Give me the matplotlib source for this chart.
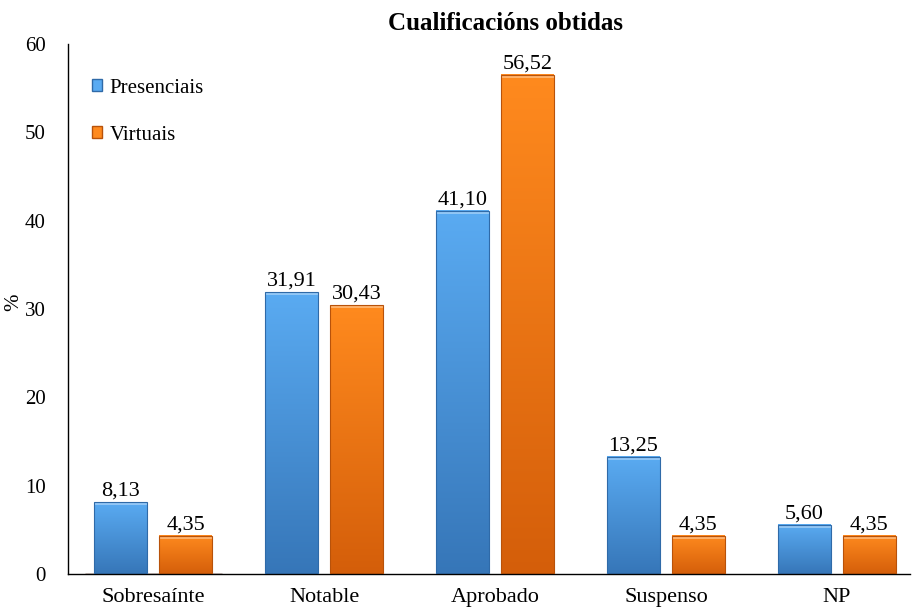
import numpy as np
import matplotlib
matplotlib.use('Agg')
import matplotlib.pyplot as plt
from matplotlib.colors import LinearSegmentedColormap

plt.rcParams['font.family'] = ['Liberation Serif', 'DejaVu Serif']

categorias = ['Sobresaínte', 'Notable', 'Aprobado', 'Suspenso', 'NP']
presenciais = [8.13, 31.91, 41.10, 13.25, 5.60]
virtuais = [4.35, 30.43, 56.52, 4.35, 4.35]
series = ['Presenciais', 'Virtuais']

# gradient colours: (top, bottom)
cores = {'Presenciais': ('#5aabf2', '#3676b8'),
         'Virtuais': ('#ff8a1e', '#d45e0a')}
bordes = {'Presenciais': '#2f6aa8', 'Virtuais': '#b8520a'}

fs = 15

fig = plt.figure(figsize=(9.13, 6.11), dpi=100)
ax = fig.add_axes([0.0745, 0.0606, 0.9225, 0.8675])

x = np.arange(len(categorias))
w = 0.31
offs = [-0.19, 0.19]
grad = np.linspace(1, 0, 256).reshape(-1, 1)

for vals, name, off in zip([presenciais, virtuais], series, offs):
    cmap = LinearSegmentedColormap.from_list(name, [cores[name][1], cores[name][0]])
    bars = ax.bar(x + off, vals, w, color='none', edgecolor=bordes[name],
                  linewidth=0.8, zorder=3)
    for b, v in zip(bars, vals):
        x0 = b.get_x()
        ax.imshow(grad, extent=[x0, x0 + w, 0, v], aspect='auto', cmap=cmap,
                  vmin=0, vmax=1, zorder=2)
        # light top bevel
        ax.fill_between([x0, x0 + w], v - 0.35, v, color='white', alpha=0.35,
                        linewidth=0, zorder=2.5)
        ax.text(x0 + w / 2, v + 0.15, f'{v:.2f}'.replace('.', ','),
                ha='center', va='bottom', fontsize=fs + 1, zorder=4)
    # legend proxy
    ax.bar([0], [0], color=cores[name][0], edgecolor=bordes[name], label=name)

ax.set_xlim(-0.5, 4.43)
ax.set_ylim(0, 60)
ax.set_yticks(range(0, 61, 10))
ax.set_xticks(x)
ax.set_xticklabels(categorias, fontsize=fs + 1)
ax.tick_params(length=0, labelsize=fs, pad=8)
ax.tick_params(axis='x', labelsize=fs + 1, pad=10)
ax.tick_params(axis='y', pad=16)
for s in ['top', 'right']:
    ax.spines[s].set_visible(False)
ax.spines['left'].set_linewidth(1.0)
ax.spines['bottom'].set_linewidth(1.0)

fig.text(0.015, 0.505, '%', rotation=90, ha='center', va='center', fontsize=fs)
ax.set_title('Cualificacións obtidas', fontsize=fs + 3, fontweight='bold', x=0.52, y=1.01)

ax.legend(loc='upper left', bbox_to_anchor=(0.006, 0.97), frameon=False,
          fontsize=fs, handlelength=0.5, handleheight=0.5, handletextpad=0.35,
          labelspacing=1.35)

fig.savefig('out.png', dpi=100)
